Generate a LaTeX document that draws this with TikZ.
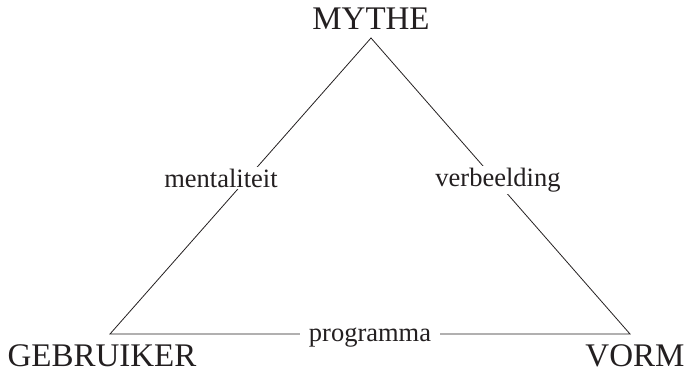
\documentclass[tikz,border=0pt]{standalone}
\usepackage{fontspec}
\setmainfont{Liberation Serif}
\definecolor{ink}{HTML}{231F20}
\begin{document}
\begin{tikzpicture}[x=1pt,y=1pt,
  big/.style={font=\fontsize{33}{33}\selectfont, text=ink, inner sep=0pt, anchor=base},
  edgelabel/.style={font=\fontsize{26.5}{26.5}\selectfont, text=ink, fill=white, inner xsep=9pt, inner ysep=2pt, anchor=base},
  edge/.style={draw=ink, line width=0.8pt}]
\useasboundingbox (0,0) rectangle (689,376);
\coordinate (A) at (371,338);
\coordinate (L) at (110,42);
\coordinate (R) at (630,42);
\draw[edge] (L) -- (A) -- (R) -- cycle;
\node[big] (mythe) at (371,347) {MYTHE};
\node[big] (gebruiker) at (102,10) {GEBRUIKER};
\node[big] (vorm) at (635,10) {VORM};
\node[edgelabel] (mentaliteit) at (221,189) {mentaliteit};
\node[edgelabel] (verbeelding) at (498,190) {verbeelding};
\node[edgelabel] (programma) at (370,34.5) {programma};
\end{tikzpicture}
\end{document}
